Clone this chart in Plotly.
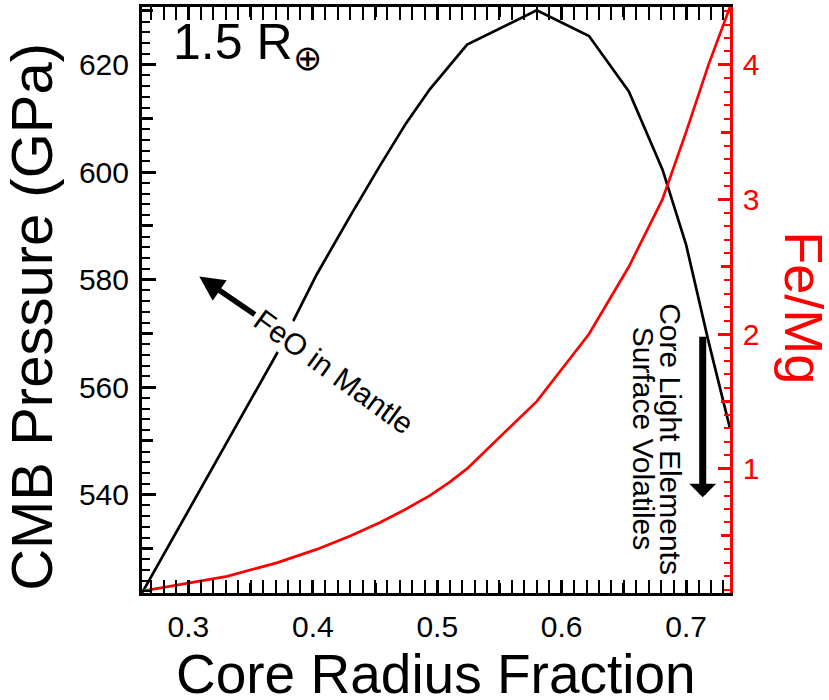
import plotly.graph_objects as go

# Interior structure models for a 1.5 Earth-radius planet
core_radius_fraction = [0.2627, 0.331, 0.371, 0.403, 0.430, 0.454, 0.475, 0.494, 0.510,
                        0.524, 0.580, 0.622, 0.654, 0.681, 0.700, 0.718, 0.7353]
cmb_pressure_gpa = [521.7, 549.7, 566.2, 580.9, 591.8, 601.2, 609.1, 615.4, 619.9,
                    623.7, 630.1, 625.3, 615.0, 600.5, 586.5, 568.5, 552.3]
fe_mg = [0.09, 0.2, 0.3, 0.4, 0.5, 0.6, 0.7, 0.8, 0.9,
         1.0, 1.5, 2.0, 2.5, 3.0, 3.5, 4.0, 4.43]

x_ticks = [0.3, 0.4, 0.5, 0.6, 0.7]
x_mid_ticks = [0.35, 0.45, 0.55, 0.65]
p_ticks = [540, 560, 580, 600, 620]
p_mid_ticks = [530, 550, 570, 590, 610, 630]
femg_ticks = [1, 2, 3, 4]
femg_mid_ticks = [0.5, 1.5, 2.5, 3.5]

x_range = [min(core_radius_fraction), max(core_radius_fraction)]
p_range = [min(cmb_pressure_gpa), 630.7]
femg_range = [0.076, max(fe_mg)]

FONT = "Liberation Sans, Arial, Helvetica, sans-serif"
RED = "#ff0000"

fig = go.Figure()
fig.add_trace(go.Scatter(x=core_radius_fraction, y=cmb_pressure_gpa, mode="lines",
                         line=dict(color="black", width=2.7), showlegend=False,
                         hoverinfo="skip"))
fig.add_trace(go.Scatter(x=core_radius_fraction, y=fe_mg, mode="lines", yaxis="y2",
                         line=dict(color=RED, width=2.7), showlegend=False,
                         hoverinfo="skip"))
# empty traces that carry the secondary tick axes
fig.add_trace(go.Scatter(x=[], y=[], xaxis="x2", yaxis="y3", showlegend=False))
fig.add_trace(go.Scatter(x=[], y=[], xaxis="x", yaxis="y4", showlegend=False))

tick_font = dict(family=FONT, size=30, color="black")

fig.update_layout(
    width=829, height=700,
    margin=dict(l=142, r=99, t=4, b=107),
    paper_bgcolor="white", plot_bgcolor="white",
    font=dict(family=FONT, color="black"),
    xaxis=dict(range=x_range, tickvals=x_ticks, ticktext=[f"{v:.1f}" for v in x_ticks],
               ticks="inside", ticklen=13, tickwidth=2.5, tickcolor="black",
               showline=True, linewidth=3, linecolor="black", mirror="allticks",
               showgrid=False, zeroline=False, tickfont=tick_font,
               ticklabelstandoff=5,
               minor=dict(dtick=0.01, tick0=0.3, ticks="inside", ticklen=7,
                          tickwidth=2, tickcolor="black", showgrid=False)),
    xaxis2=dict(range=x_range, overlaying="x", anchor="y", tickvals=x_mid_ticks,
                ticks="inside", ticklen=10, tickwidth=2.5, tickcolor="black",
                mirror="allticks", showticklabels=False, showline=False,
                showgrid=False, zeroline=False),
    yaxis=dict(range=p_range, tickvals=p_ticks, ticks="inside", ticklen=14,
               tickwidth=2.5, tickcolor="black", showline=True, linewidth=3,
               linecolor="black", showgrid=False, zeroline=False, tickfont=tick_font,
               ticklabelstandoff=4,
               minor=dict(dtick=2, tick0=520, ticks="inside", ticklen=8, tickwidth=2,
                          tickcolor="black", showgrid=False)),
    yaxis3=dict(range=p_range, overlaying="y", side="left", anchor="x",
                tickvals=p_mid_ticks, ticks="inside", ticklen=11, tickwidth=2.5,
                tickcolor="black", showticklabels=False, showline=False,
                showgrid=False, zeroline=False),
    yaxis2=dict(range=femg_range, overlaying="y", side="right", anchor="x",
                tickvals=femg_ticks, ticks="inside", ticklen=12, tickwidth=2.5,
                tickcolor=RED, showline=True, linewidth=2.5, linecolor=RED,
                showgrid=False, zeroline=False,
                tickfont=dict(family=FONT, size=30, color=RED), ticklabelstandoff=4,
                minor=dict(dtick=0.1, tick0=0, ticks="inside", ticklen=6, tickwidth=2,
                           tickcolor=RED, showgrid=False)),
    yaxis4=dict(range=femg_range, overlaying="y", side="right", anchor="x",
                tickvals=femg_mid_ticks, ticks="inside", ticklen=9, tickwidth=2.5,
                tickcolor=RED, showticklabels=False, showline=False,
                showgrid=False, zeroline=False),
)

annotations = [
    # axis titles
    dict(text="Core Radius Fraction", xref="paper", yref="paper", x=0.5, y=-0.1375,
         xanchor="center", yanchor="middle", showarrow=False,
         font=dict(family=FONT, size=55, color="black")),
    dict(text="CMB Pressure (GPa)", xref="paper", yref="paper", x=-0.188, y=0.472,
         xanchor="center", yanchor="middle", showarrow=False, textangle=-90,
         font=dict(family=FONT, size=58, color="black")),
    dict(text="Fe/Mg", xref="paper", yref="paper", x=1.1267, y=0.4867,
         xanchor="center", yanchor="middle", showarrow=False, textangle=90,
         font=dict(family=FONT, size=54, color=RED)),
    # planet size label
    dict(text="1.5 R<sub>⊕</sub>", xref="paper", yref="paper", x=0.050, y=0.935,
         xanchor="left", yanchor="middle", showarrow=False,
         font=dict(family=FONT, size=50, color="black")),
    # FeO trend
    dict(text="FeO in Mantle", xref="paper", yref="paper", x=0.326, y=0.3786,
         xanchor="center", yanchor="middle", showarrow=False, textangle=36,
         bgcolor="white", borderpad=0,
         font=dict(family=FONT, size=30, color="black")),
    dict(text="", xref="paper", yref="paper", x=0.0974, y=0.5400, ax=57, ay=39,
         showarrow=True, arrowhead=2, arrowsize=0.9, arrowwidth=5.5,
         arrowcolor="black"),
    # light element / volatile trend
    dict(text="Core Light Elements", xref="paper", yref="paper", x=0.8990, y=0.2632,
         xanchor="center", yanchor="middle", showarrow=False, textangle=90,
         font=dict(family=FONT, size=30, color="black")),
    dict(text="Surface Volatiles", xref="paper", yref="paper", x=0.8520, y=0.2632,
         xanchor="center", yanchor="middle", showarrow=False, textangle=90,
         font=dict(family=FONT, size=30, color="black")),
    dict(text="", xref="paper", yref="paper", x=0.9536, y=0.1635, ax=0, ay=-162,
         showarrow=True, arrowhead=1, arrowsize=0.64, arrowwidth=7,
         arrowcolor="black"),
]
fig.update_layout(annotations=annotations)

fig.write_html("out.html")
